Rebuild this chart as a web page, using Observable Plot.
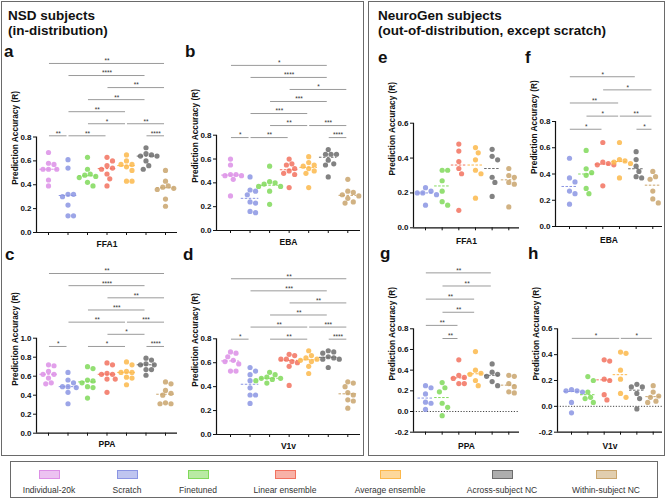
<!DOCTYPE html>
<html><head><meta charset="utf-8">
<script src="https://cdn.jsdelivr.net/npm/d3@7"></script>
<script src="https://cdn.jsdelivr.net/npm/@observablehq/plot@0.6"></script>
<style>
body{margin:0;background:#fff;font-family:"Liberation Sans",Arial,sans-serif;}
#root{position:relative;width:667px;height:500px;overflow:hidden;background:#fff;}
.box{position:absolute;border:1.3px solid #6a6a6a;box-sizing:border-box;}
.title{position:absolute;font-weight:bold;font-size:13.5px;line-height:15.5px;color:#111;white-space:nowrap;}
.letter{position:absolute;font-weight:bold;font-size:17px;line-height:19px;color:#111;}
.panel{position:absolute;}
.lg-sw{position:absolute;width:21px;height:9px;box-sizing:border-box;border:1.7px solid;}
.lg-tx{position:absolute;font-size:8.5px;line-height:10px;color:#333;white-space:nowrap;transform:translateX(-50%);}
</style></head>
<body><div id="root"></div>
<script>
// ---------- categories ----------
const methods = ["Individual-20k","Scratch","Finetuned","Linear ensemble","Average ensemble","Across-subject NC","Within-subject NC"];
const colors  = ["#dc8fe6","#8b95e3","#80d95a","#f2725f","#fcb84b","#6c6c6c","#c9a56d"];
const yLabel = "Prediction Accuracy (R)";

// ---------- NSD subjects (8 subjects, 7 methods) ----------
const nsd_FFA1 = [
  [0.67,0.58,0.57,0.53,0.53,0.53,0.44,0.39],
  [0.61,0.54,0.32,0.32,0.30,0.23,0.14,0.14],
  [0.63,0.53,0.49,0.48,0.47,0.46,0.42,0.39],
  [0.63,0.60,0.56,0.54,0.53,0.49,0.45,0.39],
  [0.65,0.60,0.57,0.57,0.55,0.52,0.43,0.43],
  [0.71,0.66,0.65,0.64,0.64,0.60,0.56,0.53],
  [0.52,0.43,0.39,0.38,0.37,0.36,0.28,0.22]
];
const nsd_EBA = [
  [0.60,0.55,0.47,0.47,0.46,0.46,0.43,0.29],
  [0.45,0.34,0.33,0.30,0.24,0.23,0.16,0.15],
  [0.54,0.41,0.40,0.39,0.37,0.37,0.33,0.22],
  [0.60,0.56,0.55,0.52,0.50,0.48,0.47,0.36],
  [0.62,0.57,0.55,0.54,0.52,0.50,0.48,0.36],
  [0.68,0.64,0.64,0.64,0.59,0.56,0.55,0.45],
  [0.43,0.33,0.32,0.30,0.29,0.27,0.24,0.23]
];
const nsd_PPA = [
  [0.72,0.71,0.65,0.62,0.62,0.58,0.53,0.52],
  [0.64,0.56,0.53,0.49,0.49,0.48,0.43,0.31],
  [0.70,0.68,0.56,0.55,0.53,0.49,0.48,0.37],
  [0.74,0.72,0.63,0.62,0.62,0.57,0.57,0.43],
  [0.75,0.72,0.65,0.64,0.64,0.59,0.58,0.51],
  [0.79,0.77,0.73,0.72,0.72,0.67,0.67,0.61],
  [0.54,0.52,0.45,0.42,0.40,0.32,0.31,0.31]
];
const nsd_V1v = [
  [0.69,0.68,0.65,0.62,0.61,0.59,0.53,0.53],
  [0.56,0.53,0.50,0.45,0.39,0.33,0.33,0.26],
  [0.52,0.50,0.48,0.47,0.47,0.46,0.45,0.43],
  [0.67,0.66,0.63,0.63,0.61,0.60,0.57,0.41],
  [0.70,0.66,0.64,0.63,0.62,0.61,0.57,0.51],
  [0.70,0.69,0.68,0.65,0.64,0.63,0.63,0.56],
  [0.44,0.43,0.40,0.35,0.33,0.29,0.28,0.22]
];
// ---------- NeuroGen subjects (6 subjects, methods 2..7) ----------
const ng_FFA1 = [
  [0.23,0.21,0.20,0.20,0.19,0.13],
  [0.33,0.33,0.27,0.21,0.15,0.13],
  [0.48,0.44,0.38,0.34,0.31,0.10],
  [0.46,0.43,0.39,0.33,0.31,0.17],
  [0.45,0.41,0.39,0.29,0.26,0.18],
  [0.34,0.30,0.29,0.26,0.25,0.12]
];
const ng_EBA = [
  [0.52,0.37,0.34,0.27,0.25,0.17],
  [0.58,0.44,0.41,0.39,0.29,0.25],
  [0.64,0.49,0.48,0.47,0.47,0.31],
  [0.64,0.51,0.50,0.49,0.48,0.37],
  [0.57,0.51,0.46,0.42,0.38,0.37],
  [0.42,0.38,0.36,0.27,0.21,0.18]
];
const ng_PPA = [
  [0.25,0.23,0.17,0.09,0.08,0.02],
  [0.28,0.23,0.19,0.08,0.04,-0.04],
  [0.50,0.35,0.33,0.32,0.27,0.27],
  [0.58,0.40,0.37,0.36,0.30,0.25],
  [0.46,0.38,0.36,0.34,0.29,0.25],
  [0.35,0.34,0.27,0.24,0.19,0.18]
];
const ng_V1v = [
  [0.13,0.12,0.12,0.11,0.03,-0.05],
  [0.23,0.20,0.11,0.07,0.06,0.03],
  [0.36,0.35,0.21,0.20,0.09,0.05],
  [0.42,0.41,0.28,0.21,0.10,0.07],
  [0.17,0.15,0.15,0.10,0.06,-0.02],
  [0.16,0.11,0.08,0.07,0.04,0.03]
];

// ---------- significance brackets: [from, to, stars, row] ----------
const sig_a = [[0,1,"**",0],[1,3,"**",0],[5,6,"****",0],[2,4,"*",1],[4,6,"**",1],[1,4,"**",2],[2,5,"**",3],[3,6,"**",4],[1,5,"****",5],[0,6,"**",6]];
const sig_b = [[0,1,"*",0],[1,3,"**",0],[5,6,"****",0],[2,4,"**",1],[4,6,"***",1],[1,4,"***",2],[2,5,"***",3],[3,6,"*",4],[1,5,"****",5],[0,5,"*",6]];
const sig_c = [[0,1,"*",0],[2,4,"*",0],[5,6,"****",0],[3,5,"*",1],[1,4,"**",2],[4,6,"***",2],[2,5,"***",3],[3,6,"**",4],[1,5,"****",5],[0,6,"**",6]];
const sig_d = [[0,1,"*",0],[2,4,"**",0],[5,6,"****",0],[1,4,"**",1],[4,6,"***",1],[2,5,"**",2],[3,6,"**",3],[1,5,"***",4],[0,6,"**",5]];
const sig_e = [];
const sig_f = [[0,2,"*",0],[4,5,"*",0],[1,3,"*",1],[3,5,"**",1],[0,3,"**",2],[2,5,"*",3],[0,4,"*",4]];
const sig_g = [[1,2,"**",0],[0,2,"**",1],[1,3,"**",2],[0,3,"**",3],[1,4,"**",4],[0,4,"**",5]];
const sig_h = [[0,3,"*",0],[3,5,"*",0]];

// ---------- layout (pixels) ----------
const layout = [
  {vals:nsd_FFA1, sig:sig_a, region:"FFA1", m0:0, left:36, right:177, t0:48, t1:165, top:136.5, bottom:232, domain:[0,0.8], base:0.81, step:0.101, svgTop:45, xlab:14.5},
  {vals:nsd_EBA,  sig:sig_b, region:"EBA",  m0:0, left:216, right:360, t0:230, t1:347.3, top:134.7, bottom:230, domain:[0,0.8], base:0.78, step:0.101, svgTop:45, xlab:14.5},
  {vals:nsd_PPA,  sig:sig_c, region:"PPA",  m0:0, left:36, right:177, t0:48, t1:165, top:337.7, bottom:432.7, domain:[0,1.0], base:0.913, step:0.128, svgTop:262, xlab:14},
  {vals:nsd_V1v,  sig:sig_d, region:"V1v",  m0:0, left:216, right:360, t0:230, t1:347.3, top:338.3, bottom:434, domain:[0,0.8], base:0.797, step:0.101, svgTop:262, xlab:14},
  {vals:ng_FFA1,  sig:sig_e, region:"FFA1", m0:1, left:413, right:519, t0:425, t1:508.3, top:122.7, bottom:227.3, domain:[0,0.6], base:0, step:0, svgTop:45, xlab:16.5},
  {vals:ng_EBA,   sig:sig_f, region:"EBA",  m0:1, left:555, right:662, t0:569, t1:652.3, top:121, bottom:226, domain:[0,0.8], base:0.741, step:0.1, svgTop:45, xlab:16},
  {vals:ng_PPA,   sig:sig_g, region:"PPA",  m0:1, left:413, right:519, t0:425, t1:508.3, top:328.3, bottom:431.7, domain:[-0.2,0.8], base:0.706, step:0.127, svgTop:262, xlab:17},
  {vals:ng_V1v,   sig:sig_h, region:"V1v",  m0:1, left:557, right:662, t0:571, t1:652.7, top:328.3, bottom:431.7, domain:[-0.2,0.6], base:0.526, step:0.1, svgTop:262, xlab:17}
];

const root = document.getElementById("root");
function addDiv(cls, style, html) {
  const d = document.createElement("div");
  d.className = cls; Object.assign(d.style, style);
  if (html != null) d.innerHTML = html;
  root.appendChild(d); return d;
}

// frames
addDiv("box", {left:"1px", top:"1px", width:"363px", height:"455px"});
addDiv("box", {left:"368px", top:"1px", width:"297px", height:"455px"});
addDiv("box", {left:"10px", top:"461px", width:"648px", height:"37px"});

// titles
addDiv("title", {left:"8px", top:"7.5px"}, "NSD subjects<br>(in-distribution)");
addDiv("title", {left:"378px", top:"7.5px"}, "NeuroGen subjects<br>(out-of-distribution, except scratch)");
const letters = [["a",4,41.5],["b",185,41.5],["c",5,245],["d",183,245],["e",378,48],["f",525,48],["g",380,244],["h",528,244]];
for (const [t,x,y] of letters) addDiv("letter", {left:x+"px", top:y+"px"}, t);

// beeswarm offsets (pixels) derived from values
function swarm(vals, ppuY, r) {
  const order = vals.map((v,j)=>j).sort((p,q)=>vals[q]-vals[p]);
  const placed = [], off = new Array(vals.length);
  const half = r + 0.15;
  for (const j of order) {
    const yj = vals[j]*ppuY;
    for (let k = 0; k < 40; k++) {
      const c = k === 0 ? 0 : (k % 2 ? 1 : -1) * Math.ceil(k/2) * half;
      if (placed.every(p => Math.hypot(p.x - c, p.y - yj) >= 2*r + 0.2)) {
        off[j] = c; placed.push({x:c, y:yj}); break;
      }
    }
  }
  return off;
}

function makePanel(c) {
  const n = c.vals.length;
  const ppx = (c.t1 - c.t0)/(n-1);
  const xdom = [-(c.t0 - c.left)/ppx, (n-1) + (c.right - c.t1)/ppx];
  const ppuY = (c.bottom - c.top)/(c.domain[1]-c.domain[0]);
  const mL = 44, mR = 4, mT = c.top - c.svgTop, mB = 24;
  const width = mL + (c.right - c.left) + mR;
  const height = mT + (c.bottom - c.top) + mB;
  const r = 2.6;
  const col = i => colors[i + c.m0];
  const pts = [], meds = [];
  c.vals.forEach((vals, i) => {
    const offs = swarm(vals, ppuY, r);
    vals.forEach((v, j) => pts.push({x: i + offs[j]/ppx, y: v, c: col(i)}));
    meds.push({i, m: d3.median(vals), c: col(i)});
  });
  const rows = c.sig.map(([a,b,lab,row]) => ({a, b, lab, y: c.base + row*c.step}));
  const ticksY = d3.range(Math.round(c.domain[0]*5), Math.round(c.domain[1]*5)+1).map(k => k/5);
  const marks = [
    Plot.ruleY(rows, {x1: d=>d.a+0.05, x2: d=>d.b-0.05, y:"y", stroke:"#8e8e8e", strokeWidth:0.9}),
    Plot.text(rows, {x: d=>(d.a+d.b)/2, y:"y", text:"lab", fontSize:6.5, fontWeight:"normal", dy:-2.2, fill:"#333"})
  ];
  if (c.domain[0] < 0) marks.push(Plot.ruleY([0], {stroke:"#333", strokeDasharray:"1.2,1.6", strokeWidth:0.9}));
  marks.push(
    Plot.dot(pts, {x:"x", y:"y", r, fill:"c", fillOpacity:0.85}),
    Plot.ruleY(meds, {x1: d=>d.i-0.45, x2: d=>d.i+0.45, y:"m", stroke:"c", strokeWidth:1, strokeDasharray:"2.5,1.5"}),
    Plot.ruleX([xdom[0]], {stroke:"#111", strokeWidth:1.2}),
    Plot.ruleY([c.domain[0]], {stroke:"#111", strokeWidth:1.2}),
    Plot.axisY({ticks: ticksY, tickFormat: d => d.toFixed(1), tickSize:3, tickPadding:2, label:null, fontSize:8}),
    Plot.axisX({ticks: d3.range(n), tickFormat: () => "", tickSize:3, label:null}),
    Plot.text([yLabel], {frameAnchor:"left", rotate:-90, dx:-21, fontSize:8.3, fontWeight:"bold", fill:"#111"}),
    Plot.text([c.region], {frameAnchor:"bottom", dy:c.xlab, fontSize:8.5, fontWeight:"bold", fill:"#111"})
  );
  const svg = Plot.plot({
    width, height, marginLeft:mL, marginRight:mR, marginTop:mT, marginBottom:mB,
    x: {type:"linear", domain:xdom, axis:null},
    y: {type:"linear", domain:c.domain, axis:null},
    color: {type:"identity"},
    style: {fontFamily:'"Liberation Sans", Arial, sans-serif', fontSize:"8px", fontWeight:"bold", color:"#111", background:"transparent", overflow:"visible"},
    marks
  });
  const holder = addDiv("panel", {left:(c.left - mL)+"px", top:c.svgTop+"px"});
  holder.appendChild(svg);
}
layout.forEach(makePanel);

// legend
const legendX = [49,127,198,285,390,502,606];
methods.forEach((m, i) => {
  addDiv("lg-sw", {left:(legendX[i]-10.5)+"px", top:"470px", borderColor:colors[i], background:d3.color(colors[i]).copy({opacity:0.55}).formatRgb()});
  addDiv("lg-tx", {left:legendX[i]+"px", top:"485px"}, m);
});
</script>
</body></html>
